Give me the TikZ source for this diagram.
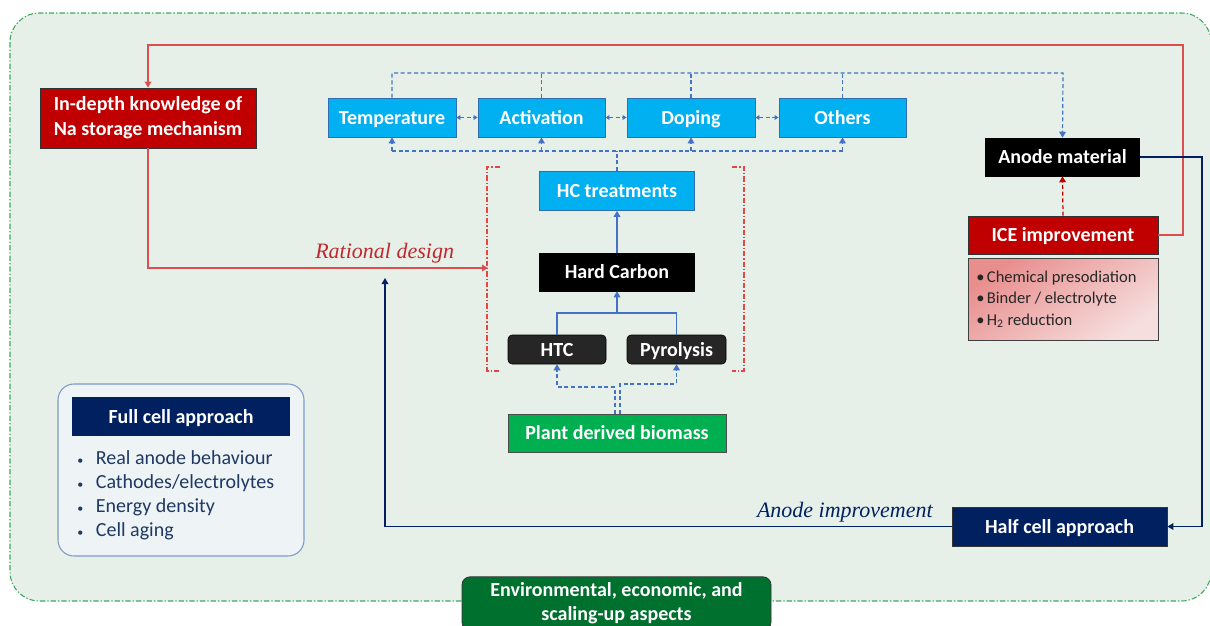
\documentclass[tikz,border=0pt]{standalone}
\usepackage{fontspec}
\setmainfont{Carlito}
\newfontfamily\seriffam{Liberation Serif}
\usetikzlibrary{arrows.meta}
\definecolor{bgG}{HTML}{E6F0E9}
\definecolor{bgBorder}{HTML}{3DA85C}
\definecolor{cyanB}{HTML}{00B0F0}
\definecolor{cyanEdge}{HTML}{2F6FB0}
\definecolor{redD}{HTML}{C00000}
\definecolor{redLine}{HTML}{DA4F4F}
\definecolor{redBr}{HTML}{E04848}
\definecolor{redTxt}{HTML}{C0282D}
\definecolor{navyD}{HTML}{002060}
\definecolor{navyTxt}{HTML}{1F3864}
\definecolor{blueL}{HTML}{4472C4}
\definecolor{greenB}{HTML}{00B050}
\definecolor{greenD}{HTML}{00702E}
\definecolor{fullFill}{HTML}{EEF4F5}
\definecolor{fullEdge}{HTML}{7F9AC6}
\definecolor{pinkA}{HTML}{E88E8D}
\definecolor{pinkB}{HTML}{F6DEDE}
\definecolor{darkB}{HTML}{262626}
\tikzset{
  base/.style={inner sep=0pt, text=white, font=\fontsize{15}{18.75}\selectfont\bfseries, align=center},
  oneline/.style={text height=12.5pt, text depth=2.5pt},
  bluebox/.style={base, oneline, fill=cyanB, draw=cyanEdge, line width=0.6pt},
  blackbox/.style={base, oneline, fill=black, draw=black},
  darkbox/.style={base, oneline, fill=darkB, draw=black, rounded corners=3pt},
  redbox/.style={base, fill=redD, draw=black!80, line width=0.6pt},
  navybox/.style={base, oneline, fill=navyD, draw=black!80, line width=0.6pt},
  greenbox/.style={base, oneline, fill=greenB, draw=black!70, line width=0.6pt},
  envbox/.style={base, fill=greenD, draw=black!80, line width=0.6pt, rounded corners=6pt, font=\fontsize{15}{18}\selectfont\bfseries},
  bluedash/.style={draw=blueL, line width=0.9pt, dash pattern=on 3pt off 2pt},
  blueline/.style={draw=blueL, line width=0.9pt},
  redloop/.style={draw=redLine, line width=0.9pt},
  reddash/.style={draw=redD, line width=0.9pt, dash pattern=on 3pt off 2pt},
  bracket/.style={draw=redBr, line width=0.9pt, dash pattern=on 4pt off 1.5pt on 1pt off 1.5pt},
  navyline/.style={draw=navyD, line width=0.9pt},
  lbl/.style={font=\seriffam\itshape\fontsize{16.5}{19}\selectfont, inner sep=0pt},
  >={Triangle[length=4.5pt,width=5pt]},
  small/.style={>={Triangle[length=3pt,width=3.5pt]}}
}
\begin{document}
\begin{tikzpicture}[x=0.75pt,y=-0.75pt]
\useasboundingbox (0,0) rectangle (1210,625);
\clip (0,0) rectangle (1210,625);
% background panel
\draw[draw=bgBorder, line width=0.8pt, dash pattern=on 4pt off 1.5pt on 1pt off 1.5pt, fill=bgG, rounded corners=22pt] (10,13) rectangle (1211,601);

% nodes
\node[redbox, minimum width=162pt, minimum height=45pt] (indepth) at (148,118) {In-depth knowledge of\\Na storage mechanism};
\node[bluebox, minimum width=96pt, minimum height=29.25pt] (temp) at (392,117.5) {Temperature};
\node[bluebox, minimum width=95.25pt, minimum height=29.25pt] (activ) at (541.5,117.5) {Activation};
\node[bluebox, minimum width=96pt, minimum height=29.25pt] (doping) at (691,117.5) {Doping};
\node[bluebox, minimum width=95.25pt, minimum height=29.25pt] (others) at (842.5,117.5) {Others};
\node[blackbox, minimum width=115.5pt, minimum height=28.5pt] (anode) at (1062.5,157) {Anode material};
\node[redbox, oneline, minimum width=142.5pt, minimum height=28.5pt] (ice) at (1063,235) {ICE improvement};
\shade[top color=pinkA, bottom color=pinkB, shading angle=35, draw=black!75, line width=0.6pt] (968,258) rectangle (1158,340);
\node[anchor=west, inner sep=0pt, align=left, text=darkB, font=\fontsize{12.4}{16.1}\selectfont] (icelist) at (976,299)
  {\makebox[8pt][l]{\textbullet}Chemical presodiation\\\makebox[8pt][l]{\textbullet}Binder / electrolyte\\\makebox[8pt][l]{\textbullet}H\textsubscript{2} reduction};
\node[bluebox, minimum width=116.25pt, minimum height=29.25pt] (hct) at (617,191) {HC treatments};
\node[blackbox, minimum width=116.25pt, minimum height=28.5pt] (hard) at (617,272) {Hard Carbon};
\node[darkbox, minimum width=73.5pt, minimum height=21.75pt] (htc) at (557,349.5) {HTC};
\node[darkbox, minimum width=74.25pt, minimum height=21.75pt] (pyro) at (676.5,349.5) {Pyrolysis};
\node[greenbox, minimum width=163.5pt, minimum height=28.5pt] (bio) at (617,433) {Plant derived biomass};

% full cell panel
\draw[draw=fullEdge, line width=0.8pt, fill=fullFill, rounded corners=12pt] (58,384) rectangle (304,556);
\node[navybox, draw=none, minimum width=163.5pt, minimum height=29.25pt] (fulltitle) at (181,416.5) {Full cell approach};
\node[anchor=west, inner sep=0pt, align=left, text=navyTxt, font=\fontsize{15}{18}\selectfont] (fulllist) at (77,495)
  {\makebox[14pt][l]{\small\textbullet}Real anode behaviour\\\makebox[14pt][l]{\small\textbullet}Cathodes/electrolytes\\\makebox[14pt][l]{\small\textbullet}Energy density\\\makebox[14pt][l]{\small\textbullet}Cell aging};

\node[navybox, minimum width=161.25pt, minimum height=29.25pt] (halfcell) at (1059.5,526.5) {Half cell approach};
\node[envbox, minimum width=231.75pt, minimum height=40pt] (env) at (616.5,603.5) {Environmental, economic, and\\scaling-up aspects};

% labels
\node[lbl, text=redTxt, anchor=base west] (ratlbl) at (315,258) {Rational design};
\node[lbl, text=navyD, anchor=base east] (anlbl) at (933,517) {Anode improvement};

% bracket around synthesis
\draw[bracket] (500,167) -- (487,167) -- (487,371) -- (500,371);
\draw[bracket] (732,167) -- (744,167) -- (744,371) -- (732,371);

% coordinates
\coordinate (loopR) at (1183,45);
\coordinate (brL) at (488,268);
\coordinate (navyUp) at (385,278);
\coordinate (navyR) at (1202,157);
\coordinate (topY) at (1063,73);
\coordinate (botY) at (617,151);
\coordinate (join) at (617,313);
\coordinate (bmL) at (615,387);
\coordinate (bmR) at (620,384);

% red feedback loop
\draw[redloop,->] (ice.east) -| (loopR) -| (indepth.north);
\draw[redloop,->] (indepth.south) |- (brL);
\draw[reddash,->] (ice.north) -- (anode.south);

% navy loop
\draw[navyline,->] (anode.east) -- (navyR) |- (halfcell.east);
\draw[navyline,->] (halfcell.west) -| (navyUp);

% top dashed network
\draw[bluedash,->] (temp.north) |- (topY) -- (anode.north);
\draw[bluedash] (activ.north) -- (activ.north |- topY);
\draw[bluedash] (doping.north) -- (doping.north |- topY);
\draw[bluedash] (others.north) -- (others.north |- topY);
% bottom dashed network
\draw[bluedash] (hct.north) -- (botY);
\draw[bluedash] (temp.south |- botY) -- (others.south |- botY);
\draw[bluedash,->] (temp.south |- botY) -- (temp.south);
\draw[bluedash,->] (activ.south |- botY) -- (activ.south);
\draw[bluedash,->] (doping.south |- botY) -- (doping.south);
\draw[bluedash,->] (others.south |- botY) -- (others.south);
% between treatment boxes
\draw[bluedash,small,<->] (temp.east) -- (activ.west);
\draw[bluedash,small,<->] (activ.east) -- (doping.west);
\draw[bluedash,small,<->] (doping.east) -- (others.west);

% synthesis chain
\draw[blueline,->] (hard.north) -- (hct.south);
\draw[blueline] (htc.north) |- (join) -| (pyro.north);
\draw[blueline,->] (join) -- (hard.south);
\draw[bluedash,->] (bio.north -| bmL) -- (bmL) -| (htc.south);
\draw[bluedash,->] (bio.north -| bmR) -- (bmR) -| (pyro.south);
\end{tikzpicture}
\end{document}
